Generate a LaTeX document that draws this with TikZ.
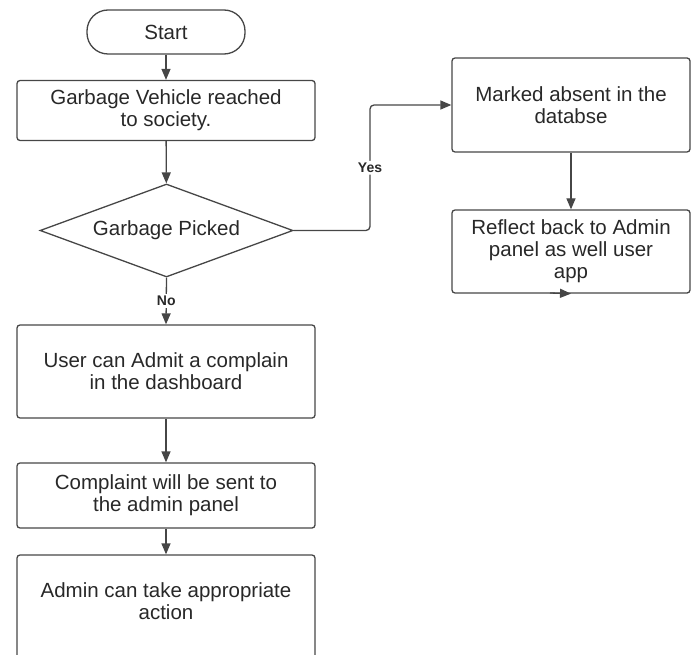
\documentclass[tikz,border=0pt]{standalone}
\usepackage{fontspec}
\setmainfont{Liberation Sans}
\usetikzlibrary{shapes.geometric,arrows.meta}

\begin{document}
\begin{tikzpicture}[x=1pt,y=1pt,yscale=-1,xscale=1,
		box/.style={draw={rgb, 255:red, 70; green, 70; blue, 70 },line width=1.3pt,rounded corners=3pt,align=center,inner sep=0pt,text={rgb, 255:red, 40; green, 40; blue, 40 },font=\fontsize{20.5}{22}\selectfont},
		terminal/.style={box,rounded corners=21pt,minimum width=158pt,minimum height=44pt},
		decision/.style={box,diamond,rounded corners=0pt,aspect=2.7,minimum width=253pt,minimum height=93pt},
		arr/.style={draw={rgb, 255:red, 70; green, 70; blue, 70 },line width=1.3pt,-{Triangle[width=9pt,length=11pt]}},
		lbl/.style={fill=white,inner sep=2pt,text={rgb, 255:red, 40; green, 40; blue, 40 },font=\fontsize{14}{15}\selectfont\bfseries}]
		%set diagram size to 696 x 655
		\useasboundingbox (0,0) rectangle (696,655);
		\clip (0,0) rectangle (696,655);
		
		% left column
		\node [terminal] (start) at (166,32) {Start};
		\node [box,minimum width=298pt,minimum height=60pt] (vehicle) at (166,110.5) {Garbage Vehicle reached\\to society.};
		\node [decision] (picked) at (166.5,230.5) {Garbage Picked};
		\node [box,minimum width=298pt,minimum height=93pt] (complain) at (166,371.5) {User can Admit a complain\\in the dashboard};
		\node [box,minimum width=298pt,minimum height=65pt] (sent) at (166,495.5) {Complaint will be sent to\\the admin panel};
		\node [box,minimum width=298pt,minimum height=104pt,text depth=12pt] (action) at (166,607) {Admin can take appropriate\\action};
		
		% right column
		\node [box,minimum width=238pt,minimum height=94pt] (absent) at (571,105) {Marked absent in the\\databse};
		\node [box,minimum width=238pt,minimum height=83pt] (reflect) at (571,251.5) {Reflect back to Admin\\panel as well user\\app};
		
		\coordinate (yesbend) at (370,105);
		\coordinate (stub) at (550,293);
		
		\draw [arr] (start) -- (vehicle);
		\draw [arr] (vehicle) -- (picked);
		\draw [arr] (picked.south) -- node [lbl] {No} (complain.north);
		\draw [arr] (complain) -- (sent);
		\draw [arr] (sent) -- (action);
		
		\draw [arr,rounded corners=4pt] (picked.east) -| node [lbl,pos=0.75] {Yes} (yesbend) -- (absent.west);
		\draw [arr] (absent) -- (reflect);
		\draw [arr] (stub) -- (reflect.south);
		
\end{tikzpicture}
\end{document}
